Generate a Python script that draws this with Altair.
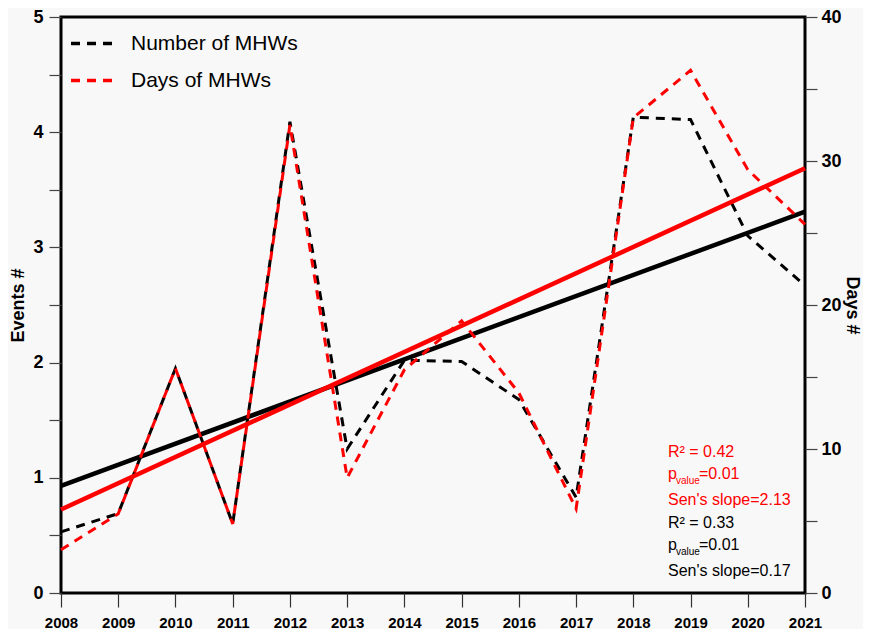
import altair as alt
import pandas as pd

# ---- data ----
years = list(range(2008, 2022))
number_mhws = [0.53, 0.69, 1.95, 0.60, 4.09, 1.25, 2.02, 2.01, 1.68, 0.83, 4.13, 4.11, 3.10, 2.67]
days_mhws = [3.0, 5.5, 15.6, 4.8, 32.5, 8.0, 15.5, 18.9, 13.9, 5.85, 33.0, 36.3, 29.4, 25.6]
trend_years = [2008, 2021]
number_trend = [0.93, 3.31]
days_trend = [5.8, 29.5]
series_names = ["Number of MHWs", "Days of MHWs"]
series_colors = ["black", "red"]
event_ticks = [0, 0.5, 1, 1.5, 2, 2.5, 3, 3.5, 4, 4.5, 5]
day_ticks = [0, 5, 10, 15, 20, 25, 30, 35, 40]
days_stats = ["R² = 0.42", "0.01", "Sen's slope=2.13"]
number_stats = ["R² = 0.33", "0.01", "Sen's slope=0.17"]

LABEL_FONT = "Liberation Sans Narrow, Arial Narrow, Liberation Sans, Arial"
TEXT_FONT = "Liberation Sans, Arial"

df = pd.DataFrame({"year": years, "number": number_mhws, "days": days_mhws})
df_num = df.assign(series=series_names[0])
df_days = df.assign(series=series_names[1])
trend = pd.DataFrame({"year": trend_years, "number": number_trend, "days": days_trend})

x_enc = alt.X(
    "year:Q",
    scale=alt.Scale(domain=[2008, 2021], nice=False, zero=False),
    axis=alt.Axis(values=years, format="d", title=None, tickSize=14, labelPadding=8,
                  labelFontSize=15, labelFont=LABEL_FONT, labelFontWeight="bold",
                  labelColor="black", tickColor="#333", tickWidth=1.2, domain=False,
                  grid=False, labelFlush=False, labelOverlap=False),
)

color_enc = alt.Color(
    "series:N",
    scale=alt.Scale(domain=series_names, range=series_colors),
    legend=alt.Legend(orient="none", legendX=8, legendY=4, title=None,
                      symbolType="stroke", symbolSize=1681, symbolStrokeWidth=3.3,
                      symbolDash=[9, 7], labelFontSize=21, labelFont=TEXT_FONT,
                      labelColor="black", labelOffset=17, rowPadding=4, padding=0,
                      labelLimit=400),
)

left_axis = alt.Axis(values=event_ticks,
                     labelExpr="datum.value % 1 == 0 ? format(datum.value, 'd') : ''",
                     title="Events #", titleFontSize=18, titleFont=TEXT_FONT, titleFontWeight="bold",
                     titlePadding=5, tickSize=12, labelPadding=6, labelFontSize=18,
                     labelFont=LABEL_FONT, labelFontWeight="bold", labelColor="black",
                     tickColor="#444", tickWidth=1.2, domain=False, grid=False, orient="left")
right_axis = alt.Axis(values=day_ticks,
                      labelExpr="datum.value % 10 == 0 ? format(datum.value, 'd') : ''",
                      title="Days #", titleFontSize=18, titleFont=TEXT_FONT, titleFontWeight="bold",
                      titlePadding=1, tickSize=12, labelPadding=4, labelFontSize=18,
                      labelFont=LABEL_FONT, labelFontWeight="bold", labelColor="black",
                      tickColor="#444", tickWidth=1.2, domain=False, grid=False, orient="right")

y_num = alt.Y("number:Q", scale=alt.Scale(domain=[0, 5], nice=False), axis=left_axis)
y_days = alt.Y("days:Q", scale=alt.Scale(domain=[0, 40], nice=False), axis=right_axis)

num_line = alt.Chart(df_num).mark_line(strokeDash=[9, 7], strokeWidth=3).encode(
    x=x_enc, y=y_num, color=color_enc)
num_trend = alt.Chart(trend).mark_line(color="black", strokeWidth=4.5).encode(x=x_enc, y=y_num)

days_line = alt.Chart(df_days).mark_line(strokeDash=[9, 7], strokeWidth=3).encode(
    x=x_enc, y=y_days, color=color_enc)
days_trend_line = alt.Chart(trend).mark_line(color="red", strokeWidth=4.5).encode(x=x_enc, y=y_days)

left = alt.layer(num_line, num_trend)
right = alt.layer(days_line, days_trend_line)

# ---- statistics annotation (bottom right) ----
ann_layers = []
X0 = 607
line_y = [435, 457, 483, 506, 528, 554]
groups = [(days_stats, "red"), (number_stats, "black")]
for gi, (stats, col) in enumerate(groups):
    ys = line_y[gi * 3: gi * 3 + 3]
    ann_layers.append(alt.Chart(pd.DataFrame({"t": [stats[0]]})).mark_text(
        align="left", baseline="middle", fontSize=16, font=TEXT_FONT, color=col).encode(
        text="t:N", x=alt.value(X0), y=alt.value(ys[0])))
    ann_layers.append(alt.Chart(pd.DataFrame({"t": ["p"]})).mark_text(
        align="left", baseline="middle", fontSize=16, font=TEXT_FONT, color=col).encode(
        text="t:N", x=alt.value(X0), y=alt.value(ys[1])))
    ann_layers.append(alt.Chart(pd.DataFrame({"t": ["value"]})).mark_text(
        align="left", baseline="middle", fontSize=10, font=TEXT_FONT, color=col).encode(
        text="t:N", x=alt.value(X0 + 8), y=alt.value(ys[1] + 7)))
    ann_layers.append(alt.Chart(pd.DataFrame({"t": ["=" + stats[1]]})).mark_text(
        align="left", baseline="middle", fontSize=16, font=TEXT_FONT, color=col).encode(
        text="t:N", x=alt.value(X0 + 31), y=alt.value(ys[1])))
    ann_layers.append(alt.Chart(pd.DataFrame({"t": [stats[2]]})).mark_text(
        align="left", baseline="middle", fontSize=16, font=TEXT_FONT, color=col).encode(
        text="t:N", x=alt.value(X0), y=alt.value(ys[2])))

chart = alt.layer(left, right, *ann_layers).resolve_scale(y="independent").properties(
    width=744, height=576,
    autosize=alt.AutoSizeParams(type="none"),
    padding={"left": 53, "top": 9, "right": 58, "bottom": 36},
    background="#f8f8f8",
).configure_view(stroke="black", strokeWidth=3)

chart.save("out.html", embed_options={"renderer": "svg", "actions": False})
